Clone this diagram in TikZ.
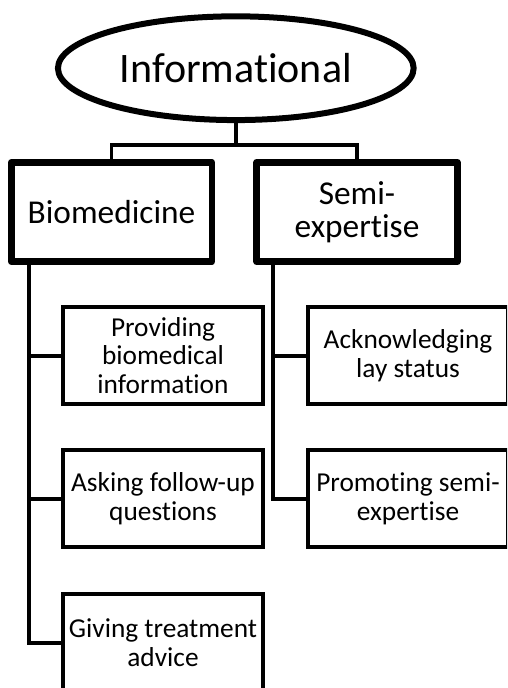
\documentclass[tikz,border=0pt]{standalone}
\usepackage{fontspec}
\setmainfont{Carlito}[Ligatures={NoCommon}]
\usetikzlibrary{shapes.geometric}
\begin{document}
\begin{tikzpicture}[x=0.75pt,y=-0.75pt,
    rootshape/.style={draw,ellipse,line width=4.5pt,fill=white,minimum width=266.8pt,minimum height=77.8pt,inner sep=0pt,font=\fontsize{31.5}{31.5}\selectfont},
    topbox/.style={draw,rectangle,line width=4.9pt,line join=round,fill=white,minimum width=150.4pt,minimum height=74.6pt,align=center,font=\fontsize{25}{25}\selectfont},
    subbox/.style={draw,rectangle,line width=3pt,fill=white,minimum width=150pt,minimum height=72.75pt,inner sep=1pt,align=center,font=\fontsize{20.5}{21.6}\selectfont},
    link/.style={line width=2.6pt},
    trunk/.style={line width=3pt}]
    %% Frame
    \clip (0,0) rectangle (507,688);
    \fill[white] (0,0) rectangle (507,688);
    %% Root
    \node[rootshape] (info) at (235.8,68.2) {Informational};
    %% Categories
    \node[topbox] (bio) at (111.5,212) {Biomedicine};
    \node[topbox] (semi) at (357,212) {Semi-\\expertise};
    %% Strategies
    \node[subbox] (prov) at (163,355.5) {Providing\\biomedical\\information};
    \node[subbox] (ask) at (163,498.5) {Asking follow-up\\questions};
    \node[subbox] (give) at (163,642.5) {Giving treatment\\advice};
    \node[subbox] (ack) at (408,355.5) {Acknowledging\\lay status};
    \node[subbox] (promo) at (408,498.5) {Promoting semi-\\expertise};
    %% Links from the root
    \draw[link] (info.south) -- ++(0,22) coordinate (split);
    \draw[link] (bio.north) |- (split) -| (semi.north);
    %% Trunks
    \coordinate (bioroot) at ([xshift=15.75pt]bio.south west);
    \coordinate (semiroot) at ([xshift=15pt]semi.south west);
    \draw[trunk] (bioroot) |- (give.west);
    \draw[trunk] (bioroot |- prov.west) -- (prov.west);
    \draw[trunk] (bioroot |- ask.west) -- (ask.west);
    \draw[trunk] (semiroot) |- (promo.west);
    \draw[trunk] (semiroot |- ack.west) -- (ack.west);
\end{tikzpicture}
\end{document}
